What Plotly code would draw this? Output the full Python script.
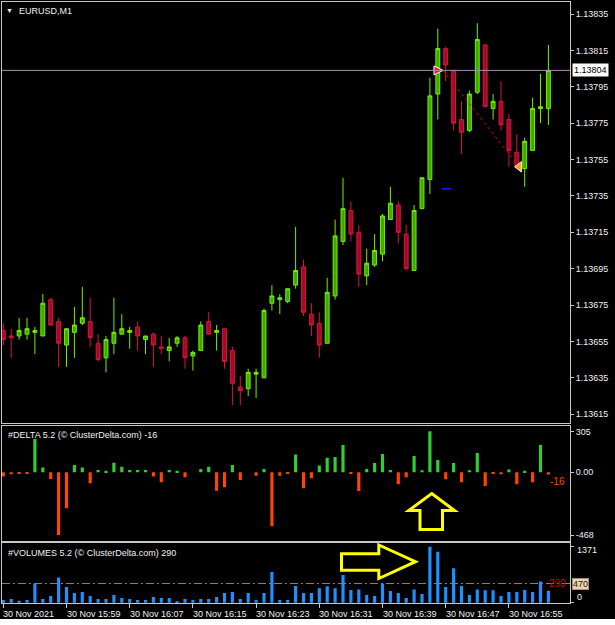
import plotly.graph_objects as go

W, H = 615, 619   # figure height; lands on the 625 reference frame

# ---------------- data ----------------
symbol_title = "EURUSD,M1"
bar_index = list(range(70))
open_ = [1.13661, 1.13658, 1.13658, 1.13659, 1.13660, 1.13658, 1.13678, 1.13666, 1.13653, 1.13660,
         1.13665, 1.13666, 1.13654, 1.13646, 1.13654, 1.13659, 1.13660, 1.13663, 1.13656, 1.13659,
         1.13652, 1.13650, 1.13654, 1.13657, 1.13647, 1.13650, 1.13666, 1.13660, 1.13662, 1.13650,
         1.13630, 1.13629, 1.13637, 1.13635, 1.13676, 1.13678, 1.13677, 1.13686, 1.13696, 1.13670,
         1.13665, 1.13654, 1.13680, 1.13710, 1.13727, 1.13715, 1.13691, 1.13697, 1.13703, 1.13722,
         1.13730, 1.13714, 1.13694, 1.13728, 1.13744, 1.13791, 1.13816, 1.13804, 1.13777, 1.13771,
         1.13792, 1.13818, 1.13783, 1.13787, 1.13777, 1.13759, 1.13750, 1.13760, 1.13783, 1.13783]
high = [1.13665, 1.13662, 1.13668, 1.13668, 1.13663, 1.13681, 1.13679, 1.13668, 1.13662, 1.13674,
        1.13685, 1.13679, 1.13659, 1.13658, 1.13679, 1.13670, 1.13663, 1.13666, 1.13658, 1.13660,
        1.13658, 1.13657, 1.13658, 1.13658, 1.13650, 1.13666, 1.13671, 1.13664, 1.13662, 1.13652,
        1.13636, 1.13640, 1.13640, 1.13673, 1.13686, 1.13681, 1.13684, 1.13718, 1.13700, 1.13676,
        1.13671, 1.13690, 1.13722, 1.13745, 1.13732, 1.13719, 1.13706, 1.13714, 1.13725, 1.13740,
        1.13732, 1.13719, 1.13730, 1.13745, 1.13800, 1.13827, 1.13817, 1.13804, 1.13787, 1.13793,
        1.13830, 1.13818, 1.13791, 1.13798, 1.13780, 1.13769, 1.13767, 1.13789, 1.13802, 1.13818]
low = [1.13653, 1.13646, 1.13656, 1.13656, 1.13648, 1.13658, 1.13664, 1.13641, 1.13641, 1.13646,
       1.13664, 1.13652, 1.13644, 1.13638, 1.13648, 1.13659, 1.13651, 1.13650, 1.13648, 1.13641,
       1.13648, 1.13644, 1.13652, 1.13640, 1.13639, 1.13650, 1.13659, 1.13650, 1.13640, 1.13620,
       1.13620, 1.13625, 1.13624, 1.13635, 1.13672, 1.13670, 1.13676, 1.13684, 1.13669, 1.13658,
       1.13646, 1.13654, 1.13678, 1.13708, 1.13710, 1.13685, 1.13686, 1.13696, 1.13699, 1.13722,
       1.13709, 1.13694, 1.13694, 1.13728, 1.13736, 1.13777, 1.13798, 1.13771, 1.13758, 1.13770,
       1.13791, 1.13784, 1.13777, 1.13771, 1.13751, 1.13750, 1.13740, 1.13760, 1.13775, 1.13774]
close = [1.13656, 1.13657, 1.13661, 1.13662, 1.13661, 1.13676, 1.13664, 1.13654, 1.13662, 1.13664,
         1.13668, 1.13657, 1.13645, 1.13656, 1.13660, 1.13662, 1.13661, 1.13658, 1.13658, 1.13653,
         1.13651, 1.13652, 1.13657, 1.13646, 1.13649, 1.13664, 1.13659, 1.13661, 1.13644, 1.13632,
         1.13628, 1.13638, 1.13638, 1.13672, 1.13680, 1.13679, 1.13684, 1.13694, 1.13671, 1.13664,
         1.13653, 1.13682, 1.13713, 1.13728, 1.13714, 1.13692, 1.13698, 1.13705, 1.13724, 1.13731,
         1.13715, 1.13695, 1.13727, 1.13745, 1.13790, 1.13816, 1.13807, 1.13775, 1.13770, 1.13791,
         1.13821, 1.13784, 1.13787, 1.13774, 1.13760, 1.13751, 1.13765, 1.13783, 1.13784, 1.13804]
delta = [-32, -15, -10, -10, 248, 35, -50, -468, -268, 55,
         35, -82, 17, 12, 72, 42, 17, 17, 17, -32,
         -75, 17, 12, -37, 0, 25, 42, -137, -112, 55,
         -57, 0, -25, 25, -400, -25, -7, 132, -119, -45,
         50, 109, 114, 204, -7, -139, 25, 70, 137, 17,
         -89, -37, 122, 15, 305, 92, -52, 70, -75, 15,
         144, -102, -10, -15, 20, -89, 12, -75, 204, -16]
volume = [65, 90, 49, 65, 473, 90, 163, 620, 384, 237,
          261, 163, 90, 90, 188, 114, 90, 65, 65, 139,
          114, 114, 24, 90, 65, 90, 90, 139, 237, 261,
          90, 237, 65, 237, 751, 65, 65, 408, 237, 237,
          351, 400, 351, 677, 310, 326, 188, 163, 465, 286,
          237, 114, 326, 212, 1371, 1249, 384, 841, 408, 188,
          326, 302, 302, 163, 261, 261, 310, 261, 522, 290]
volume_avg = 470
bid_price = 1.13804
price_ticks = [1.13615, 1.13635, 1.13655, 1.13675, 1.13695, 1.13715,
               1.13735, 1.13755, 1.13775, 1.13795, 1.13815, 1.13835]
delta_ticks = [305, 0, -468]
delta_ticklabels = ["305", "0.00", "-468"]
volume_ticks = [1371, 0]
volume_ticklabels = ["1371", "0"]
time_tick_index = [0, 8, 16, 24, 32, 40, 48, 56, 64]
time_tick_labels = ["30 Nov 2021", "30 Nov 15:59", "30 Nov 16:07", "30 Nov 16:15",
                    "30 Nov 16:23", "30 Nov 16:31", "30 Nov 16:39", "30 Nov 16:47", "30 Nov 16:55"]
trade_open = (55.66, 1.13804)
trade_close = (65.3, 1.13751)
stop_mark = (56.1, 1.13739)
delta_title = "#DELTA 5.2 (© ClusterDelta.com) -16"
volume_title = "#VOLUMES 5.2 (© ClusterDelta.com) 290"

# ---------------- helpers ----------------
def fx(p):
    return p / W

def fy(p):
    return 1 - p / H

FONT = "Liberation Sans"
TXT = "#F0F0F0"
LINE = "#C8C8C8"

xdom = [fx(2), fx(570)]
xrange_ = [(2 - 3.3) / 7.9, (570 - 3.3) / 7.9]

fig = go.Figure()

fig.add_trace(go.Candlestick(
    x=bar_index, open=open_, high=high, low=low, close=close,
    increasing=dict(line=dict(color="#72F000", width=1), fillcolor="#40A800"),
    decreasing=dict(line=dict(color="#D8143C", width=1), fillcolor="#A00C26"),
    whiskerwidth=0, xaxis="x", yaxis="y", hoverinfo="skip"))

# trade marks
fig.add_trace(go.Scatter(x=[trade_open[0], trade_close[0]], y=[trade_open[1], trade_close[1]],
                         mode="lines", line=dict(color="#E00000", width=1, dash="dot"),
                         xaxis="x", yaxis="y", hoverinfo="skip"))
fig.add_trace(go.Scatter(x=[trade_open[0]], y=[trade_open[1]], mode="markers",
                         marker=dict(symbol="arrow-right", size=9, color="#FF1010",
                                     line=dict(color="white", width=1)),
                         xaxis="x", yaxis="y", hoverinfo="skip"))
fig.add_trace(go.Scatter(x=[trade_close[0]], y=[trade_close[1]], mode="markers",
                         marker=dict(symbol="triangle-left", size=9, color="#EFA040",
                                     line=dict(color="#FFF0D0", width=1)),
                         xaxis="x", yaxis="y", hoverinfo="skip"))
fig.add_trace(go.Scatter(x=[stop_mark[0]], y=[stop_mark[1]], mode="markers",
                         marker=dict(symbol="line-ew", size=7, line=dict(color="#1010FF", width=2)),
                         xaxis="x", yaxis="y", hoverinfo="skip"))

# delta histogram
fig.add_trace(go.Bar(x=bar_index, y=delta, width=0.4,
                     marker=dict(color=["#32CD32" if d > 0 else "#FF4500" for d in delta],
                                 line=dict(width=0)),
                     xaxis="x2", yaxis="y2", hoverinfo="skip"))

# volume histogram
fig.add_trace(go.Bar(x=bar_index, y=volume, width=0.4,
                     marker=dict(color="#1E90FF", line=dict(width=0)),
                     xaxis="x3", yaxis="y3", hoverinfo="skip"))

axx = dict(range=xrange_, domain=xdom, showgrid=False, zeroline=False, showticklabels=False,
           showline=True, mirror=True, linecolor=LINE, linewidth=1, fixedrange=True)
axy = dict(side="right", showgrid=False, zeroline=False, showline=True, mirror=True,
           linecolor=LINE, linewidth=1, ticks="outside", ticklen=3, tickcolor=LINE,
           tickfont=dict(family=FONT, size=9, color=TXT), fixedrange=True)

fig.update_layout(
    width=W, height=H, margin=dict(l=0, r=0, t=0, b=0),
    paper_bgcolor="black", plot_bgcolor="black", showlegend=False, hovermode=False,
    xaxis=dict(anchor="y", rangeslider=dict(visible=False), **axx),
    xaxis2=dict(anchor="y2", **axx),
    xaxis3=dict(anchor="y3", ticks="outside", ticklen=4, tickcolor=LINE,
                tickvals=time_tick_index, **axx),
    yaxis=dict(anchor="x", domain=[fy(423.3), fy(2)], range=[1.1361, 1.138416],
               tickvals=price_ticks, tickformat=".5f", **axy),
    yaxis2=dict(anchor="x2", domain=[fy(540.7), fy(426)], range=[-509.6, 345],
                tickvals=delta_ticks, ticktext=delta_ticklabels, **axy),
    yaxis3=dict(anchor="x3", domain=[fy(603.3), fy(543.3)], range=[-15, 1455],
                tickvals=volume_ticks, ticktext=["", ""], **axy),
)

shapes = []
shapes.append(dict(type="line", xref="x domain", yref="y", x0=0, x1=1, y0=bid_price, y1=bid_price,
                   line=dict(color="#A590AA", width=1)))
shapes.append(dict(type="line", xref="x3 domain", yref="y3", x0=0, x1=1, y0=volume_avg, y1=volume_avg,
                   line=dict(color="#8E7E6C", width=1, dash="8px,3px,2px,3px")))

def path(pts):
    return "M " + " L ".join(f"{fx(a):.5f},{fy(b):.5f}" for a, b in pts) + " Z"

up_arrow = [(431.7, 493.5), (454.5, 510.5), (442.5, 510.5), (442.5, 529.5),
            (420.0, 529.5), (420.0, 510.5), (408.8, 510.5)]
shapes.append(dict(type="path", xref="paper", yref="paper", path=path(up_arrow),
                   line=dict(color="#FFFF00", width=3)))
right_arrow = [(341.5, 553.8), (378.8, 553.8), (378.8, 545.0), (415.5, 561.7),
               (378.8, 578.5), (378.8, 570.2), (341.5, 570.2)]
shapes.append(dict(type="path", xref="paper", yref="paper", path=path(right_arrow),
                   line=dict(color="#FFFF00", width=3)))
fig.update_layout(shapes=shapes)

ann = []
def text(x, y, s, color=TXT, anchor="left", size=9, **kw):
    ann.append(dict(x=fx(x), y=fy(y), xref="paper", yref="paper", text=s, showarrow=False,
                    xanchor=anchor, yanchor="middle",
                    font=dict(family=FONT, size=size, color=color), **kw))

text(9.5, 10.5, "▼", anchor="center", size=7)
text(17, 11, symbol_title)
text(6, 434.5, delta_title)
text(6, 552.5, volume_title)
text(557, 481, "-16", color="#FF4500", anchor="center", size=10)

# volume axis labels (MT4 draws them inside the pane edges)
for v, lab, shift in zip(volume_ticks, volume_ticklabels, [-3.3, 5.4]):
    ann.append(dict(x=fx(575), y=v, xref="paper", yref="y3", text=lab, showarrow=False,
                    xanchor="left", yanchor="middle", yshift=shift,
                    font=dict(family=FONT, size=9, color=TXT)))

ann.append(dict(x=fx(557.5), y=volume_avg, xref="paper", yref="y3", text="290", showarrow=False,
                xanchor="center", yanchor="middle", font=dict(family=FONT, size=10, color="#CC0000")))
ann.append(dict(x=fx(572), y=volume_avg, xref="paper", yref="y3", text="470", showarrow=False,
                xanchor="left", yanchor="middle", bgcolor="#F0D2A8", bordercolor="#A09080",
                borderwidth=1, borderpad=0, font=dict(family=FONT, size=9, color="#202020")))
ann.append(dict(x=fx(572), y=bid_price, xref="paper", yref="y", text=f"{bid_price:.5f}",
                showarrow=False, xanchor="left", yanchor="middle", bgcolor="white",
                borderpad=1, font=dict(family=FONT, size=9, color="black")))

for i, lab in zip(time_tick_index, time_tick_labels):
    ann.append(dict(x=i, y=fy(613.5), xref="x3", yref="paper", text=lab, showarrow=False,
                    xanchor="left", yanchor="middle", xshift=-2,
                    font=dict(family=FONT, size=9, color=TXT)))

fig.update_layout(annotations=ann)

fig.write_html("out.html")
